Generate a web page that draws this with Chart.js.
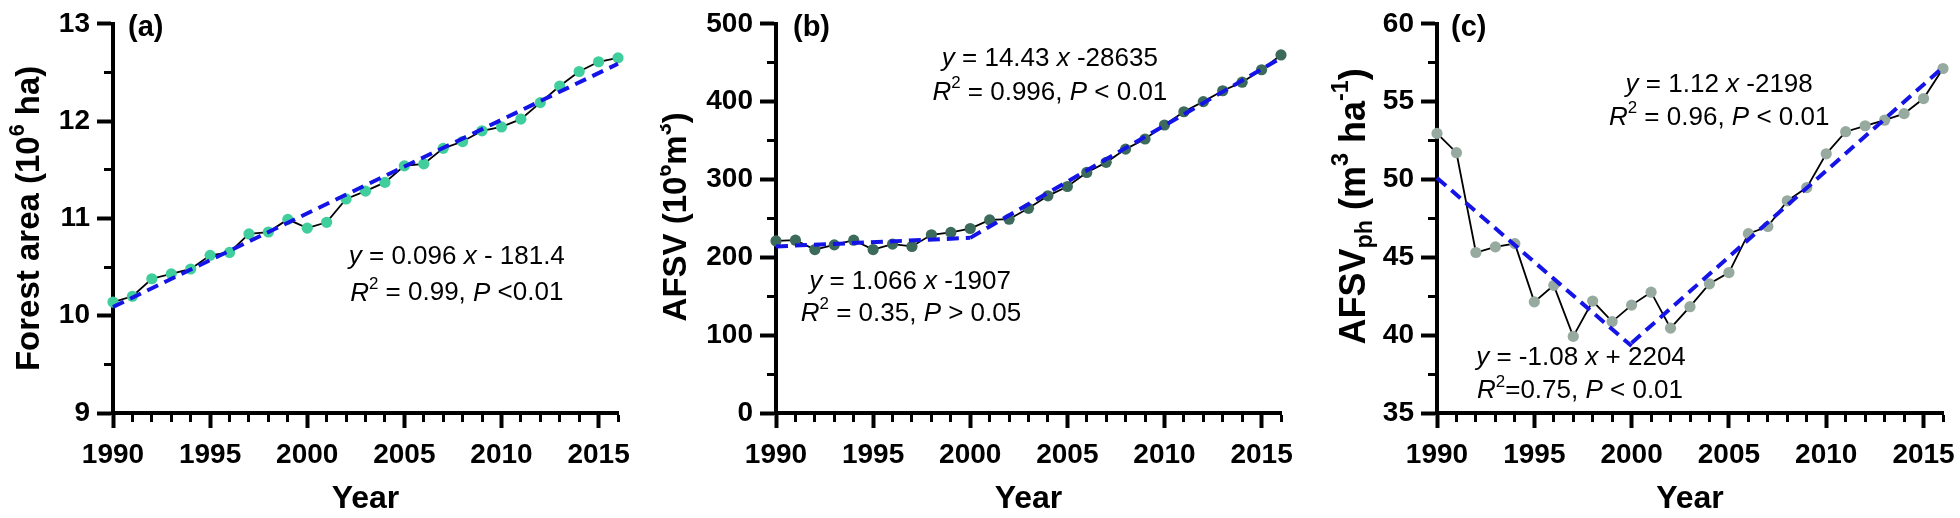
<!DOCTYPE html>
<html lang="en">
<head>
<meta charset="UTF-8">
<title>Forest area and AFSV 1990-2016</title>
<script src="https://cdn.jsdelivr.net/npm/chart.js@4.4.0/dist/chart.umd.min.js"></script>
<style>
  body { margin: 0; background: #fff; width: 1960px; height: 518px; position: relative; overflow: hidden; }
  canvas { position: absolute; top: 0; }
</style>
</head>
<body>
<canvas id="chartA" width="660" height="518" style="left:0px"></canvas>
<canvas id="chartB" width="640" height="518" style="left:660px"></canvas>
<canvas id="chartC" width="660" height="518" style="left:1300px"></canvas>
<script>
// ---- data ----
const years = [1990, 1991, 1992, 1993, 1994, 1995, 1996, 1997, 1998, 1999, 2000, 2001, 2002,
               2003, 2004, 2005, 2006, 2007, 2008, 2009, 2010, 2011, 2012, 2013, 2014, 2015, 2016];

const forestArea = [10.14, 10.20, 10.38, 10.43, 10.48, 10.62, 10.65, 10.84, 10.86, 10.99, 10.90, 10.96, 11.20,
                    11.28, 11.37, 11.54, 11.56, 11.72, 11.79, 11.90, 11.94, 12.02, 12.19, 12.36, 12.51, 12.61, 12.65];

const afsv = [221, 222, 210, 216, 222, 210, 217, 214, 229, 232, 237, 248, 249,
              263, 279, 291, 309, 322, 339, 352, 370, 387, 400, 414, 425, 441, 460];

const afsvPh = [52.96, 51.72, 45.31, 45.67, 45.88, 42.14, 43.20, 39.92, 42.19, 40.87, 41.93, 42.76, 40.45,
                41.83, 43.30, 44.02, 46.52, 46.98, 48.63, 49.48, 51.65, 53.07, 53.45, 53.81, 54.23, 55.20, 57.13];

// fitted lines (end points)
const fitAYears = [1990, 2016];
const fitAValues = [10.09, 12.59];
const fitB1Years = [1990, 2000];
const fitB1Values = [214, 225];
const fitB2Years = [2000, 2016];
const fitB2Values = [225, 456];
const fitC1Years = [1990, 2000];
const fitC1Values = [50.1, 39.3];
const fitC2Years = [2000, 2016];
const fitC2Values = [39.5, 57.2];

const FONT = '"Liberation Sans", Arial, sans-serif';
const BLUE = '#1414e6';

function pts(xs, ys) { return xs.map((x, i) => ({ x: x, y: ys[i] })); }

// tiny markup: {i:..} italic, {^:..} superscript, {_:..} subscript
function parse(str) {
  const parts = [];
  const re = /\{([i^_]):([^}]*)\}/g;
  let last = 0, m;
  while ((m = re.exec(str)) !== null) {
    if (m.index > last) parts.push({ t: str.slice(last, m.index) });
    if (m[1] === 'i') parts.push({ t: m[2], i: true });
    else parts.push({ t: m[2], s: m[1] === '^' ? 'sup' : 'sub' });
    last = re.lastIndex;
  }
  if (last < str.length) parts.push({ t: str.slice(last) });
  return parts;
}

function drawRich(ctx, x, y, str, size, weight, align) {
  const parts = parse(str);
  const fontOf = p => (p.i ? 'italic ' : '') + weight + ' ' + (p.s ? size * 0.65 : size) + 'px ' + FONT;
  let total = 0;
  parts.forEach(p => { ctx.font = fontOf(p); p.w = ctx.measureText(p.t).width; total += p.w; });
  let cx = align === 'center' ? x - total / 2 : x;
  ctx.textAlign = 'left';
  ctx.textBaseline = 'middle';
  parts.forEach(p => {
    ctx.font = fontOf(p);
    let dy = 0;
    if (p.s === 'sup') dy = -size * 0.36;
    if (p.s === 'sub') dy = size * 0.3;
    ctx.fillText(p.t, cx, y + dy);
    cx += p.w;
  });
}

function overlay(cfg) {
  return {
    id: 'overlay',
    afterDraw(chart) {
      const ctx = chart.ctx;
      const a = chart.chartArea;
      const xs = chart.scales.x, ys = chart.scales.y;
      ctx.save();
      ctx.fillStyle = '#000';
      drawRich(ctx, a.left + cfg.letterDx, a.top + 4, cfg.letter, 29, 'bold', 'left');
      cfg.notes.forEach(n => {
        drawRich(ctx, xs.getPixelForValue(n[0]), ys.getPixelForValue(n[1]), n[2], 26, 'normal', 'center');
      });
      ctx.translate(cfg.titleX, (a.top + a.bottom) / 2 + cfg.titleDy);
      ctx.rotate(-Math.PI / 2);
      drawRich(ctx, 0, 0, cfg.yTitle, cfg.titleSize, 'bold', 'center');
      ctx.restore();
    }
  };
}

// major ticks full length, minor ticks short (drawn with a dash from the axis side)
function tickGrid(isMinor, horizontal) {
  return {
    drawOnChartArea: false, drawTicks: true, tickLength: horizontal ? 15 : 16, tickColor: '#000',
    tickWidth: c => (isMinor(c.tick.value) ? 3 : 4),
    tickBorderDash: c => (isMinor(c.tick.value) ? [7, 101] : []),
    tickBorderDashOffset: c => (isMinor(c.tick.value) ? (horizontal ? 0 : 101) : 0)
  };
}

function makeChart(id, cfg) {
  const fits = cfg.fits.map(f => ({
    data: f, borderColor: BLUE, borderWidth: 4, borderDash: [12, 7],
    pointRadius: 0, fill: false, order: 0, clip: false
  }));
  const tickFont = { family: FONT, size: 28, weight: 'bold' };
  const xMinor = v => v % 5 !== 0;
  const yMinor = v => Math.abs(v / cfg.yLabelEvery - Math.round(v / cfg.yLabelEvery)) > 1e-6;
  return new Chart(document.getElementById(id), {
    type: 'line',
    data: {
      datasets: fits.concat([{
        data: cfg.series, borderColor: '#000', borderWidth: 1.8,
        pointRadius: 5.6, pointBackgroundColor: cfg.color, pointBorderWidth: 0,
        fill: false, order: 1, clip: false
      }])
    },
    options: {
      responsive: false, animation: false, events: [],
      layout: { padding: { top: 20, right: cfg.padRight, left: 0, bottom: 0 } },
      plugins: { legend: { display: false }, tooltip: { enabled: false } },
      scales: {
        x: {
          type: 'linear', min: 1990, max: 2016,
          afterFit: s => { s.height = 105; },
          border: { display: true, color: '#000', width: 4 },
          grid: tickGrid(xMinor, true),
          ticks: {
            stepSize: 1, autoSkip: false, maxRotation: 0, color: '#000', font: tickFont, padding: 10,
            callback: v => (xMinor(v) ? '' : String(v))
          },
          title: { display: true, text: 'Year', color: '#000', font: { family: FONT, size: 32, weight: 'bold' }, padding: 0 }
        },
        y: {
          min: cfg.yMin, max: cfg.yMax,
          afterFit: s => { s.width = cfg.axisLeft; },
          border: { display: true, color: '#000', width: 4 },
          grid: tickGrid(yMinor, false),
          ticks: {
            stepSize: cfg.yStep, autoSkip: false, color: '#000', font: tickFont, padding: 7,
            callback: v => (yMinor(v) ? '' : String(v))
          }
        }
      }
    },
    plugins: [overlay(cfg)]
  });
}

makeChart('chartA', {
  series: pts(years, forestArea), color: '#40cf9c',
  fits: [pts(fitAYears, fitAValues)],
  yMin: 9, yMax: 13, yStep: 0.5, yLabelEvery: 1,
  axisLeft: 113, padRight: 42,
  letter: '(a)', letterDx: 15,
  titleX: 29.5, titleDy: 0, titleSize: 33, yTitle: 'Forest area (10{^:6} ha)',
  notes: [
    [2007.7, 10.61, '{i:y} = 0.096 {i:x} - 181.4'],
    [2007.7, 10.23, '{i:R}{^:2} = 0.99, {i:P} <0.01']
  ]
});

makeChart('chartB', {
  series: pts(years, afsv), color: '#3d6b5b',
  fits: [pts(fitB1Years, fitB1Values), pts(fitB2Years, fitB2Values)],
  yMin: 0, yMax: 500, yStep: 50, yLabelEvery: 100,
  axisLeft: 116, padRight: 19,
  letter: '(b)', letterDx: 17,
  titleX: 17, titleDy: -1.5, titleSize: 33, yTitle: 'AFSV (10{^:6}m{^:3})',
  notes: [
    [2004.1, 455, '{i:y} = 14.43 {i:x} -28635'],
    [2004.1, 411, '{i:R}{^:2} = 0.996, {i:P} < 0.01'],
    [1996.9, 169, '{i:y} = 1.066 {i:x} -1907'],
    [1996.95, 127, '{i:R}{^:2} = 0.35, {i:P} > 0.05']
  ]
});

makeChart('chartC', {
  series: pts(years, afsvPh), color: '#97aa9f',
  fits: [pts(fitC1Years, fitC1Values), pts(fitC2Years, fitC2Values)],
  yMin: 35, yMax: 60, yStep: 2.5, yLabelEvery: 5,
  axisLeft: 137, padRight: 17,
  letter: '(c)', letterDx: 14,
  titleX: 55, titleDy: -12, titleSize: 36, yTitle: 'AFSV{_:ph} (m{^:3} ha{^:-1})',
  notes: [
    [2004.5, 56.07, '{i:y} = 1.12 {i:x} -2198'],
    [2004.5, 53.97, '{i:R}{^:2} = 0.96, {i:P} < 0.01'],
    [1997.4, 38.55, '{i:y} = -1.08 {i:x} + 2204'],
    [1997.35, 36.4, '{i:R}{^:2}=0.75, {i:P} < 0.01']
  ]
});
</script>
</body>
</html>
